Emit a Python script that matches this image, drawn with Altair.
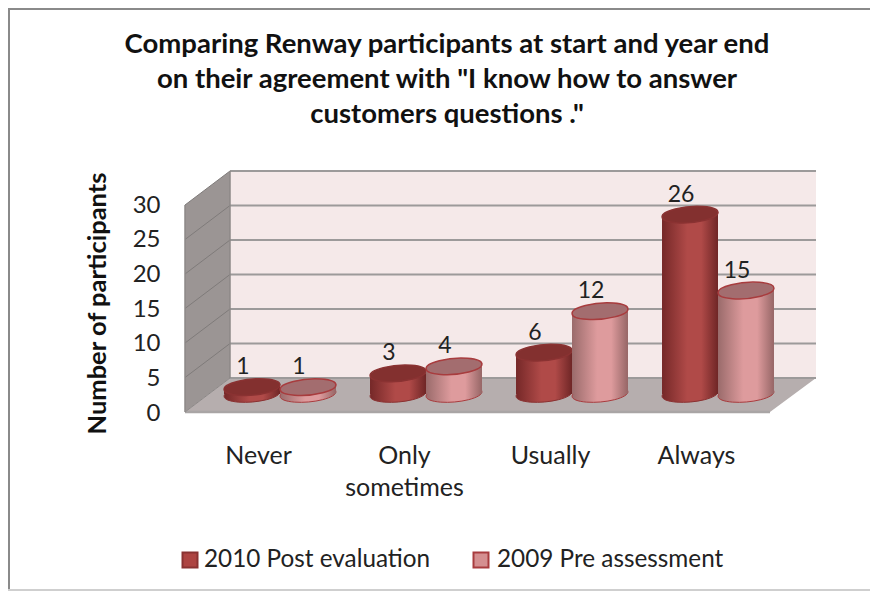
import altair as alt
import pandas as pd

categories = ["Never", "Only sometimes", "Usually", "Always"]
series = ["2010 Post evaluation", "2009 Pre assessment"]
post_2010 = [1, 3, 6, 26]
pre_2009 = [1, 4, 12, 15]
ticks = [0, 5, 10, 15, 20, 25, 30]
title_lines = [
    'Comparing Renway participants at  start and year end',
    'on their agreement with "I know how to answer',
    'customers questions .\"',
]
title_y = [45, 80, 115]
FONT = "Lato"

W, H = 862, 583

rows = []
for c, a, b in zip(categories, post_2010, pre_2009):
    rows.append({"cat": c, "series": series[0], "value": a, "zero": 0})
    rows.append({"cat": c, "series": series[1], "value": b, "zero": 0})
df = pd.DataFrame(rows)

PX = alt.Scale(domain=[8, 8 + W], range=[0, W], nice=False, zero=False)
PY = alt.Scale(domain=[8, 8 + H], range=[0, H], nice=False, zero=False)


def X(f):
    return alt.X(f, scale=PX, axis=None)


def Y(f):
    return alt.Y(f, scale=PY, axis=None)


# furniture (walls, floor, grid, frame), in page pixels
wall = alt.Chart(pd.DataFrame({"x": [185, 230], "t": [205, 171], "b": [412, 378]})).mark_area(
    color="#9b9594", interpolate="linear"
).encode(x=X("x:Q"), y=Y("t:Q"), y2="b:Q")

back = alt.Chart(pd.DataFrame({"x": [230], "x2": [816], "t": [171], "b": [378]})).mark_rect(
    color="#f5e9e9"
).encode(x=X("x:Q"), x2="x2:Q", y=Y("t:Q"), y2="b:Q")

floor = alt.Chart(pd.DataFrame({
    "x": [185, 230, 770, 816], "t": [412, 378, 378, 378], "b": [412, 412, 412, 378]
})).mark_area(color="#b6aeae", interpolate="linear").encode(x=X("x:Q"), y=Y("t:Q"), y2="b:Q")

grid_df = pd.DataFrame({"tick": ticks})
grid_df["y"] = 378 - grid_df["tick"] * 6.9
grid_df["x"] = 230
grid_df["x2"] = 816
grid = alt.Chart(grid_df).mark_rule(color="#9c9a9a", strokeWidth=2.2).encode(
    x=X("x:Q"), x2="x2:Q", y=Y("y:Q")
)

diag_rows = []
for t in ticks[1:]:
    diag_rows.append({"tick": t, "x": 185, "y": 412 - t * 6.9})
    diag_rows.append({"tick": t, "x": 230, "y": 378 - t * 6.9})
diag = alt.Chart(pd.DataFrame(diag_rows)).mark_line(color="#7f7b7a", strokeWidth=1).encode(
    x=X("x:Q"), y=Y("y:Q"), detail="tick:N"
)

edge_left = alt.Chart(pd.DataFrame({"x": [185], "t": [205], "b": [412]})).mark_rule(
    color="#8c8887", strokeWidth=1.5
).encode(x=X("x:Q"), y=Y("t:Q"), y2="b:Q")
edge_back = alt.Chart(pd.DataFrame({"x": [230], "t": [171], "b": [378]})).mark_rule(
    color="#8c8887", strokeWidth=1.5
).encode(x=X("x:Q"), y=Y("t:Q"), y2="b:Q")
edge_front = alt.Chart(pd.DataFrame({"x": [185], "x2": [770], "y": [412]})).mark_rule(
    color="#a9a5a5", strokeWidth=2.5
).encode(x=X("x:Q"), x2="x2:Q", y=Y("y:Q"))
edge_diag = alt.Chart(pd.DataFrame({"x": [185, 230], "y": [412, 378]})).mark_line(
    color="#8c8887", strokeWidth=1
).encode(x=X("x:Q"), y=Y("y:Q"))

frame_top = alt.Chart(pd.DataFrame({"x": [8], "x2": [870], "y": [9]})).mark_rule(
    color="#8a8a8a", strokeWidth=2
).encode(x=X("x:Q"), x2="x2:Q", y=Y("y:Q"))
frame_left = alt.Chart(pd.DataFrame({"x": [9], "t": [8], "b": [590]})).mark_rule(
    color="#8a8a8a", strokeWidth=2
).encode(x=X("x:Q"), y=Y("t:Q"), y2="b:Q")
frame_bottom = alt.Chart(pd.DataFrame({"x": [8], "x2": [870], "y": [590]})).mark_rule(
    color="#cfcfcf", strokeWidth=2
).encode(x=X("x:Q"), x2="x2:Q", y=Y("y:Q"))

# data marks
BAND = alt.Scale(domain=categories, range=[199, 783], paddingInner=0.233, paddingOuter=0.1165)
OFF = alt.Scale(domain=series, paddingInner=0, paddingOuter=0)
VAL = alt.Scale(domain=[0, 30], range=[386, 179], nice=False, zero=True)

ELLIPSE = "M-0.996,0.087 A1,0.28,-5,1,1,0.996,-0.087 A1,0.28,-5,1,1,-0.996,0.087 Z"
ESIZE = 3136


def grad(edge1, mid, edge2):
    return alt.Gradient(
        gradient="linear", x1=0, x2=1, y1=0, y2=0,
        stops=[
            alt.GradientStop(color=edge1, offset=0),
            alt.GradientStop(color=mid, offset=0.45),
            alt.GradientStop(color=mid, offset=0.7),
            alt.GradientStop(color=edge2, offset=1),
        ],
    )


def cylinder(name, side, top, stroke):
    d = alt.Chart(df).transform_filter(alt.datum.series == name)
    enc = dict(
        x=alt.X("cat:N", scale=BAND, axis=None),
        xOffset=alt.XOffset("series:N", scale=OFF),
    )
    base = d.mark_point(shape=ELLIPSE, size=ESIZE, filled=True, fill=side, opacity=1, stroke=stroke, strokeWidth=1).encode(
        y=alt.Y("zero:Q", scale=VAL, axis=None), **enc
    )
    body = d.mark_bar(color=side).encode(
        y=alt.Y("value:Q", scale=VAL, axis=None), **enc
    )
    cap = d.mark_point(shape=ELLIPSE, size=ESIZE, filled=True, fill=top, opacity=1, stroke=stroke, strokeWidth=1.5).encode(
        y=alt.Y("value:Q", scale=VAL, axis=None), **enc
    )
    label = d.mark_text(font=FONT, fontSize=23, color="#222222", dx=-9, dy=-20, baseline="middle").encode(
        y=alt.Y("value:Q", scale=VAL, axis=None), text="value:Q", **enc
    )
    return [base, body, cap, label]


cyl_a = cylinder(series[0], grad("#752828", "#b04a48", "#6f2626"), "#83302f", "#8a3232")
cyl_b = cylinder(series[1], grad("#9a6b6b", "#de9b9d", "#966666"), "#a36d6f", "#a83c3e")

# real axes
y_axis = alt.Chart(pd.DataFrame({"tick": ticks})).mark_point(opacity=0).encode(
    y=alt.Y(
        "tick:Q",
        scale=alt.Scale(domain=[0, 30], range=[405, 197], nice=False),
        axis=alt.Axis(
            values=ticks, orient="left", offset=-152, domain=False, ticks=False, grid=False,
            labelFont=FONT, labelFontSize=24, labelColor="#222222", labelPadding=0,
            title="Number of  participants", titleFont=FONT, titleFontSize=25.5, titleFontWeight="bold",
            titleColor="#111111", titleX=-63, titleY=295, titleAngle=-90, titleAlign="center",
            titleBaseline="middle",
        ),
    )
)
x_axis = alt.Chart(pd.DataFrame({"cat": categories})).mark_point(opacity=0).encode(
    x=alt.X(
        "cat:N",
        scale=alt.Scale(domain=categories, range=[177, 761], paddingInner=0.233, paddingOuter=0.1165),
        axis=alt.Axis(
            orient="bottom", offset=-148, domain=False, ticks=False, grid=False, labelAngle=0,
            labelFont=FONT, labelFontSize=25, labelColor="#222222", labelPadding=0,
            labelLineHeight=32, labelBaseline="top", title=None,
            labelExpr="datum.label == 'Only sometimes' ? ['Only', 'sometimes'] : datum.label",
        ),
    )
)

title = alt.Chart(pd.DataFrame({"t": title_lines, "y": title_y, "x": [447] * 3})).mark_text(
    font=FONT, fontSize=27.5, fontWeight="bold", color="#111111", align="center", baseline="middle"
).encode(x=X("x:Q"), y=Y("y:Q"), text="t:N")

leg = pd.DataFrame({"s": series, "mx": [190, 481], "tx": [204, 497], "y": [560, 560]})
leg_a = alt.Chart(leg.iloc[[0]]).mark_square(size=225, fill="#ad4442", stroke="#8a3232", strokeWidth=2, opacity=1).encode(
    x=X("mx:Q"), y=Y("y:Q"))
leg_b = alt.Chart(leg.iloc[[1]]).mark_square(size=225, fill="#d48f90", stroke="#a83c3e", strokeWidth=2, opacity=1).encode(
    x=X("mx:Q"), y=Y("y:Q"))
leg_t = alt.Chart(leg).mark_text(font=FONT, fontSize=24.3, color="#222222", align="left", baseline="middle").encode(
    x=X("tx:Q"), y=Y("y:Q"), text="s:N")

layers = [
    frame_top, frame_left, frame_bottom, title,
    wall, back, floor, grid, diag, edge_left, edge_back, edge_front, edge_diag,
    y_axis, x_axis, *cyl_a, *cyl_b, leg_a, leg_b, leg_t,
]

chart = alt.layer(*layers).resolve_scale(x="independent", y="independent").properties(
    width=W, height=H, padding=0, autosize=alt.AutoSizeParams(type="none"), background="white"
).configure_view(stroke=None)

chart.save("out.html", embed_options={"renderer": "svg", "actions": False})
